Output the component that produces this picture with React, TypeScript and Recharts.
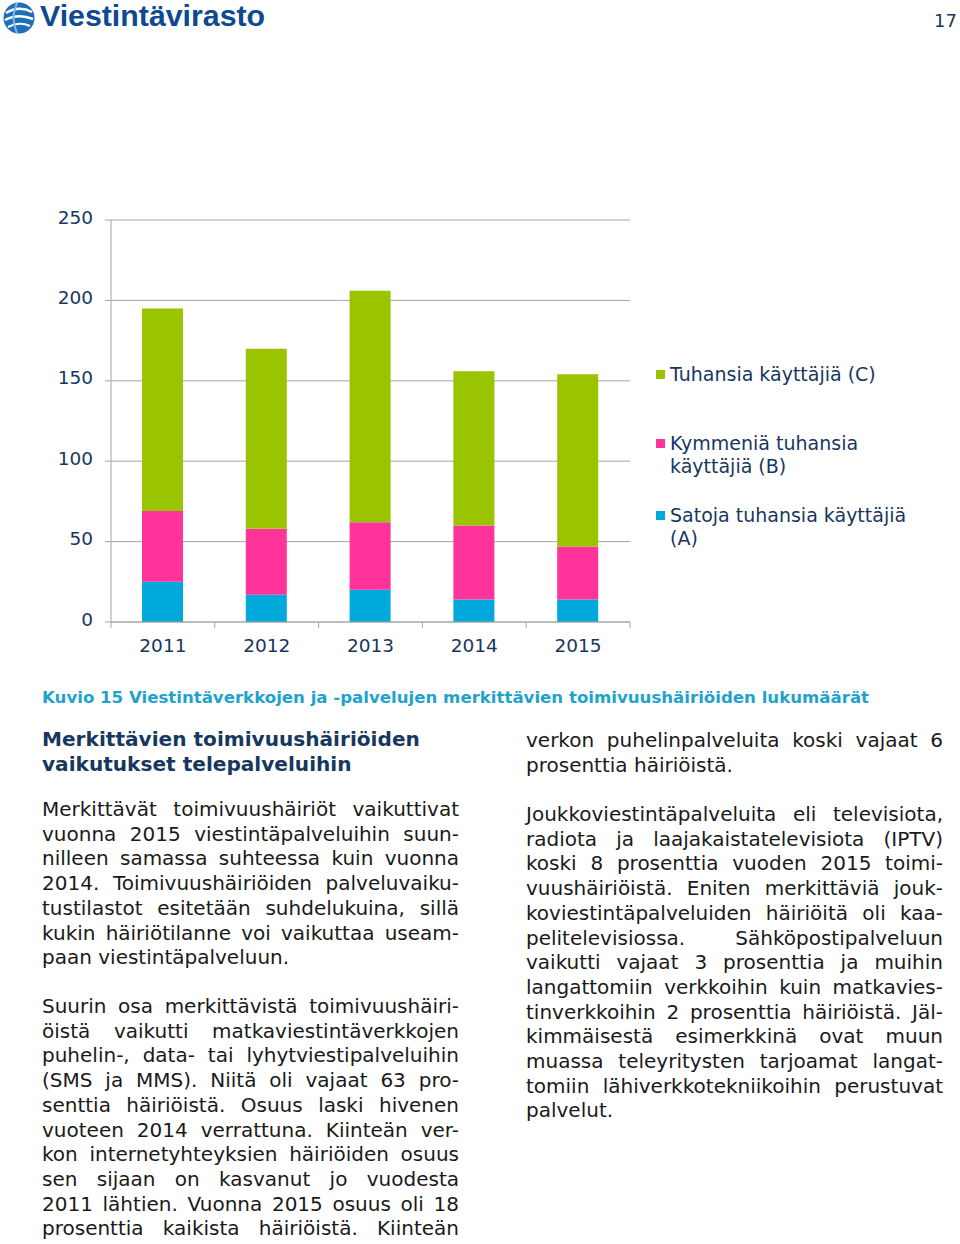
import React from "react"
import { BarChart, Bar, XAxis, YAxis, CartesianGrid } from "recharts"

// chart data
const years = ["2011", "2012", "2013", "2014", "2015"]
const satojaA = [25, 17, 20, 14, 14]
const kymmeniaB = [44, 41, 42, 46, 33]
const tuhansiaC = [126, 112, 144, 96, 107]
const yTicks = [0, 50, 100, 150, 200, 250]

const seriesLabels = {
  c: ["Tuhansia käyttäjiä (C)"],
  b: ["Kymmeniä tuhansia", "käyttäjiä (B)"],
  a: ["Satoja tuhansia käyttäjiä", "(A)"],
}

const GREEN = "#9bc400"
const PINK = "#ff3399"
const BLUE = "#00a9dc"
const NAVY = "#17375e"
const GRID = "#a6a6a6"
const FONT = "'DejaVu Sans', Verdana, sans-serif"

const data = years.map((year, i) => ({
  year,
  a: satojaA[i],
  b: kymmeniaB[i],
  c: tuhansiaC[i],
}))

const PLOT_LEFT = 111
const PLOT_RIGHT = 630
const HALF_BAND = (PLOT_RIGHT - PLOT_LEFT) / years.length / 2

// x tick: label in the middle, tick marks on category borders
const YearTick = (props: any) => {
  const { x, y, payload, index } = props
  return (
    <g>
      <line x1={x - HALF_BAND} x2={x - HALF_BAND} y1={y} y2={y + 6} stroke={GRID} />
      {index === years.length - 1 && (
        <line x1={x + HALF_BAND} x2={x + HALF_BAND} y1={y} y2={y + 6} stroke={GRID} />
      )}
      <text x={x} y={y + 30} textAnchor="middle" fill={NAVY} fontSize={18.5} fontFamily={FONT}>
        {payload.value}
      </text>
    </g>
  )
}

const LegendBox = () => {
  const item = (color: string, lines: string[], top: number) => (
    <div style={{ position: "absolute", left: 0, top, display: "flex" }}>
      <div style={{ width: 9, height: 9, background: color, marginTop: 7, marginRight: 5 }} />
      <div style={{ lineHeight: "23px" }}>
        {lines.map((l) => (
          <div key={l} style={{ whiteSpace: "nowrap" }}>{l}</div>
        ))}
      </div>
    </div>
  )
  return (
    <div style={{ position: "absolute", left: 656, top: 363, width: 290, height: 200, color: NAVY, fontSize: 19, fontFamily: FONT }}>
      {item(GREEN, seriesLabels.c, 0)}
      {item(PINK, seriesLabels.b, 69)}
      {item(BLUE, seriesLabels.a, 141)}
    </div>
  )
}

const para1 = [
  "Merkittävät toimivuushäiriöt vaikuttivat",
  "vuonna 2015 viestintäpalveluihin suun-",
  "nilleen samassa suhteessa kuin vuonna",
  "2014. Toimivuushäiriöiden palveluvaiku-",
  "tustilastot esitetään suhdelukuina, sillä",
  "kukin häiriötilanne voi vaikuttaa useam-",
  "paan viestintäpalveluun.",
]
const para2 = [
  "Suurin osa merkittävistä toimivuushäiri-",
  "öistä vaikutti matkaviestintäverkkojen",
  "puhelin-, data- tai lyhytviestipalveluihin",
  "(SMS ja MMS). Niitä oli vajaat 63 pro-",
  "senttia häiriöistä. Osuus laski hivenen",
  "vuoteen 2014 verrattuna. Kiinteän ver-",
  "kon internetyhteyksien häiriöiden osuus",
  "sen sijaan on kasvanut jo vuodesta",
  "2011 lähtien. Vuonna 2015 osuus oli 18",
  "prosenttia kaikista häiriöistä. Kiinteän",
]
const para3 = ["verkon puhelinpalveluita koski vajaat 6", "prosenttia häiriöistä."]
const para4 = [
  "Joukkoviestintäpalveluita eli televisiota,",
  "radiota ja laajakaistatelevisiota (IPTV)",
  "koski 8 prosenttia vuoden 2015 toimi-",
  "vuushäiriöistä. Eniten merkittäviä jouk-",
  "koviestintäpalveluiden häiriöitä oli kaa-",
  "pelitelevisiossa. Sähköpostipalveluun",
  "vaikutti vajaat 3 prosenttia ja muihin",
  "langattomiin verkkoihin kuin matkavies-",
  "tinverkkoihin 2 prosenttia häiriöistä. Jäl-",
  "kimmäisestä esimerkkinä ovat muun",
  "muassa teleyritysten tarjoamat langat-",
  "tomiin lähiverkkotekniikoihin perustuvat",
  "palvelut.",
]

const Para = ({ lines, left, top, lastJustified = false }: { lines: string[]; left: number; top: number; lastJustified?: boolean }) => (
  <div style={{ position: "absolute", left, top, width: 417, fontSize: 20, lineHeight: "24.7px", color: "#1a1a1a", fontFamily: FONT }}>
    {lines.map((l, i) => {
      const justify = i < lines.length - 1 || lastJustified
      return (
        <div key={i} style={{ whiteSpace: "nowrap", textAlign: justify ? "justify" : "left", textAlignLast: justify ? "justify" : "left" } as React.CSSProperties}>
          {l}
        </div>
      )
    })}
  </div>
)

export default function App() {
  return (
    <div style={{ position: "absolute", left: 0, top: 0, width: 960, height: 1244, background: "#fff", overflow: "hidden" }}>
      {/* logo */}
      <svg style={{ position: "absolute", left: 2, top: 1 }} width={34} height={34} viewBox="0 0 34 34">
        <circle cx={17} cy={17} r={15.5} fill="#1f6fb8" />
        <path d="M4 12 Q17 4 30 11" stroke="#fff" strokeWidth={2.5} fill="none" />
        <path d="M3 19 Q16 12 31 18" stroke="#fff" strokeWidth={2.5} fill="none" />
        <path d="M6 26 Q17 20 28 25" stroke="#fff" strokeWidth={2} fill="none" />
        <path d="M15 2 Q8 17 15 32" stroke="#7fb7e6" strokeWidth={2} fill="none" />
      </svg>
      <div style={{ position: "absolute", left: 40, top: -1, fontFamily: "'Liberation Sans', Arial, sans-serif", fontWeight: 700, fontSize: 30.3, color: "#0e4a8f" }}>
        Viestintävirasto
      </div>
      <div style={{ position: "absolute", left: 934, top: 10, fontFamily: FONT, fontSize: 18, color: NAVY }}>17</div>

      {/* chart */}
      <div style={{ position: "absolute", left: 0, top: 200 }}>
        <BarChart width={960} height={470} data={data} margin={{ top: 20, right: 960 - PLOT_RIGHT, bottom: 0, left: 0 }}>
          <CartesianGrid vertical={false} stroke={GRID} />
          <XAxis
            dataKey="year"
            height={48}
            axisLine={{ stroke: GRID }}
            tickLine={false}
            tickSize={0}
            tickMargin={0}
            tick={<YearTick />}
            interval={0}
          />
          <YAxis
            width={PLOT_LEFT}
            domain={[0, 250]}
            ticks={yTicks}
            axisLine={{ stroke: GRID }}
            tickLine={{ stroke: GRID }}
            tickSize={6}
            tickMargin={12}
            tick={{ fill: NAVY, fontSize: 18.5, fontFamily: FONT, dy: -3 }}
          />
          <Bar dataKey="a" stackId="s" fill={BLUE} barSize={41} isAnimationActive={false} />
          <Bar dataKey="b" stackId="s" fill={PINK} barSize={41} isAnimationActive={false} />
          <Bar dataKey="c" stackId="s" fill={GREEN} barSize={41} isAnimationActive={false} />
        </BarChart>
      </div>
      <LegendBox />

      {/* caption */}
      <div style={{ position: "absolute", left: 42, top: 688, fontFamily: FONT, fontWeight: 700, fontSize: 16.6, color: "#1fa3cc", whiteSpace: "nowrap" }}>
        Kuvio 15 Viestintäverkkojen ja -palvelujen merkittävien toimivuushäiriöiden lukumäärät
      </div>

      {/* heading */}
      <div style={{ position: "absolute", left: 42, top: 727, fontFamily: FONT, fontWeight: 700, fontSize: 20.1, lineHeight: "24.5px", color: NAVY }}>
        <div>Merkittävien toimivuushäiriöiden</div>
        <div>vaikutukset telepalveluihin</div>
      </div>

      <Para lines={para1} left={42} top={797} />
      <Para lines={para2} left={42} top={994} lastJustified />
      <Para lines={para3} left={526} top={728} />
      <Para lines={para4} left={526} top={802} />
    </div>
  )
}
